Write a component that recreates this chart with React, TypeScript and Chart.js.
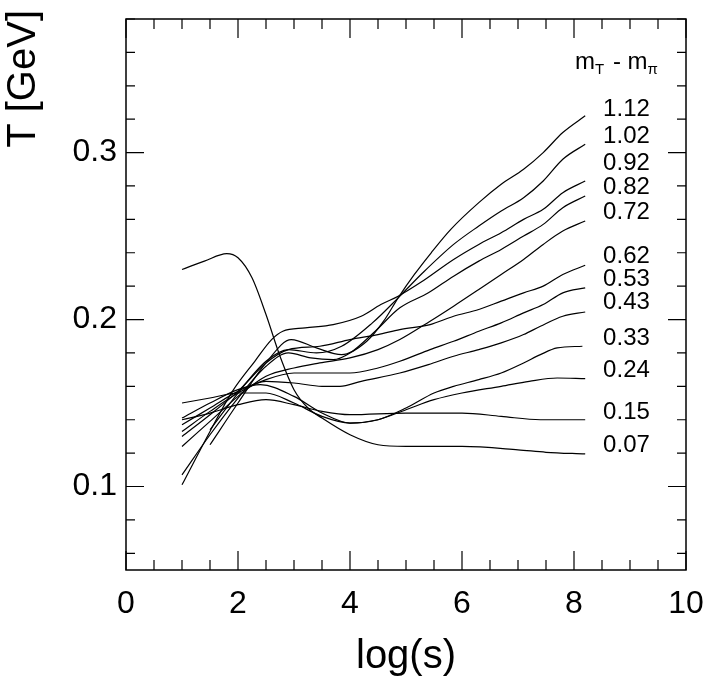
import { useEffect, useRef } from "react";
import { Chart, registerables } from "chart.js";

Chart.register(...registerables);

const FONT = "'Liberation Sans', Arial, Helvetica, sans-serif";

// m_T - m_pi bins (GeV), top to bottom at the right edge
const binLabels = ["1.12", "1.02", "0.92", "0.82", "0.72", "0.62", "0.53", "0.43", "0.33", "0.24", "0.15", "0.07"];
// T value where each bin label sits
const labelT = [0.326, 0.3096, 0.2936, 0.279, 0.264, 0.2376, 0.224, 0.21, 0.189, 0.1694, 0.1446, 0.1246];

// [log(s), T]
const c112 = [[1.5, 0.125], [2.0, 0.15], [2.5, 0.174], [2.95, 0.188], [3.4, 0.183], [3.85, 0.179], [4.3, 0.187], [4.6, 0.199], [4.86, 0.213], [5.15, 0.227], [5.45, 0.24], [5.8, 0.254], [6.3, 0.27], [6.7, 0.281], [7.1, 0.29], [7.45, 0.3], [7.8, 0.312], [8.2, 0.322]];
const c102 = [[1.5, 0.134], [2.0, 0.156], [2.5, 0.175], [2.9, 0.182], [3.4, 0.18], [3.85, 0.184], [4.4, 0.198], [4.86, 0.213], [5.3, 0.228], [5.85, 0.245], [6.3, 0.256], [6.7, 0.265], [7.1, 0.273], [7.45, 0.283], [7.8, 0.296], [8.2, 0.305]];
const c092 = [[1.0, 0.101], [1.5, 0.133], [1.9, 0.157], [2.3, 0.175], [2.6, 0.188], [2.8, 0.193], [3.2, 0.195], [3.7, 0.197], [4.2, 0.202], [4.55, 0.209], [4.86, 0.214], [5.25, 0.222], [5.85, 0.236], [6.3, 0.245], [6.7, 0.252], [7.1, 0.26], [7.45, 0.266], [7.8, 0.276], [8.2, 0.283]];
const c082 = [[1.0, 0.107], [1.5, 0.131], [2.0, 0.153], [2.5, 0.172], [2.9, 0.18], [3.3, 0.177], [3.7, 0.176], [4.0, 0.18], [4.45, 0.193], [4.89, 0.207], [5.4, 0.216], [5.85, 0.226], [6.3, 0.235], [6.7, 0.242], [7.1, 0.25], [7.45, 0.257], [7.8, 0.267], [8.2, 0.274]];
const c072 = [[1.0, 0.124], [1.5, 0.139], [2.0, 0.154], [2.5, 0.166], [3.0, 0.171], [3.46, 0.174], [4.0, 0.177], [4.5, 0.182], [4.89, 0.188], [5.43, 0.199], [5.85, 0.208], [6.3, 0.218], [6.7, 0.227], [7.1, 0.236], [7.45, 0.245], [7.8, 0.253], [8.2, 0.259]];
const c062 = [[1.0, 0.13], [1.5, 0.143], [2.0, 0.157], [2.5, 0.174], [2.9, 0.182], [3.46, 0.184], [4.0, 0.188], [4.5, 0.191], [4.89, 0.194], [5.43, 0.197], [5.85, 0.202], [6.3, 0.206], [6.7, 0.211], [7.1, 0.216], [7.45, 0.22], [7.8, 0.227], [8.2, 0.2325]];
const c053 = [[1.0, 0.133], [1.5, 0.145], [2.0, 0.156], [2.5, 0.164], [3.0, 0.168], [3.5, 0.168], [4.0, 0.168], [4.5, 0.171], [4.89, 0.175], [5.43, 0.182], [5.85, 0.187], [6.3, 0.193], [6.7, 0.198], [7.1, 0.204], [7.45, 0.209], [7.8, 0.216], [8.2, 0.219]];
const c043 = [[1.0, 0.137], [1.5, 0.147], [2.0, 0.157], [2.5, 0.163], [3.0, 0.162], [3.5, 0.16], [3.82, 0.16], [4.2, 0.163], [4.89, 0.168], [5.4, 0.173], [5.85, 0.178], [6.3, 0.182], [6.7, 0.186], [7.1, 0.191], [7.4, 0.196], [7.8, 0.202], [8.2, 0.2045]];
const c033 = [[1.0, 0.141], [1.5, 0.15], [2.0, 0.158], [2.4, 0.161], [3.0, 0.154], [3.5, 0.144], [4.0, 0.138], [4.5, 0.14], [5.0, 0.147], [5.5, 0.156], [5.85, 0.16], [6.3, 0.164], [6.7, 0.168], [7.1, 0.174], [7.4, 0.179], [7.7, 0.183], [8.15, 0.184]];
const c024 = [[1.0, 0.15], [1.5, 0.153], [2.0, 0.156], [2.5, 0.156], [3.0, 0.15], [3.5, 0.142], [4.0, 0.138], [4.5, 0.14], [5.0, 0.146], [5.5, 0.152], [6.0, 0.156], [6.7, 0.16], [7.2, 0.163], [7.7, 0.165], [8.2, 0.1646]];
const c015 = [[1.0, 0.14], [1.5, 0.144], [2.0, 0.149], [2.5, 0.152], [3.0, 0.149], [3.5, 0.145], [4.0, 0.143], [5.0, 0.144], [6.0, 0.144], [6.7, 0.142], [7.4, 0.14], [8.2, 0.14]];
const c007 = [[1.0, 0.23], [1.4, 0.235], [1.8, 0.2395], [2.0, 0.237], [2.25, 0.225], [2.5, 0.203], [2.75, 0.178], [3.0, 0.158], [3.25, 0.147], [3.5, 0.141], [4.0, 0.131], [4.5, 0.125], [5.0, 0.124], [6.0, 0.124], [7.0, 0.122], [7.5, 0.1205], [8.2, 0.1195]];

const curves = [c112, c102, c092, c082, c072, c062, c053, c043, c033, c024, c015, c007];

const xTickLabels = [0, 2, 4, 6, 8, 10];
const yTickLabels = [0.1, 0.2, 0.3];

const framePlugin = {
  id: "frame",
  afterDatasetsDraw(chart: any) {
    const { ctx, chartArea: a, scales } = chart;
    const x = scales.x;
    const y = scales.y;
    ctx.save();
    ctx.strokeStyle = "#000";
    ctx.lineWidth = 1.5;
    ctx.strokeRect(a.left, a.top, a.right - a.left, a.bottom - a.top);

    // inward ticks on all four sides
    ctx.lineWidth = 1.2;
    ctx.beginPath();
    for (let i = 0; i <= 20; i++) {
      const px = x.getPixelForValue(i * 0.5);
      const len = i % 4 === 0 ? 19 : 10;
      ctx.moveTo(px, a.bottom);
      ctx.lineTo(px, a.bottom - len);
      ctx.moveTo(px, a.top);
      ctx.lineTo(px, a.top + len);
    }
    for (let i = 3; i <= 19; i++) {
      const py = y.getPixelForValue(i * 0.02);
      const len = i % 5 === 0 ? 18 : 9;
      ctx.moveTo(a.left, py);
      ctx.lineTo(a.left + len, py);
      ctx.moveTo(a.right, py);
      ctx.lineTo(a.right - len, py);
    }
    ctx.stroke();

    // bin labels
    ctx.fillStyle = "#000";
    ctx.font = `24px ${FONT}`;
    ctx.textAlign = "left";
    ctx.textBaseline = "middle";
    const lx = x.getPixelForValue(8.52);
    binLabels.forEach((t, i) => ctx.fillText(t, lx, y.getPixelForValue(labelT[i])));

    // header m_T - m_pi
    ctx.textBaseline = "alphabetic";
    let hx = x.getPixelForValue(8.02);
    const hy = y.getPixelForValue(0.35);
    const big = `24px ${FONT}`;
    const small = `15px ${FONT}`;
    const parts: [string, string, number][] = [
      ["m", big, 0],
      ["T", small, 5],
      [" - m", big, 0],
      ["\u03c0", small, 5],
    ];
    parts.forEach(([s, f, dy]) => {
      ctx.font = f;
      ctx.fillText(s, hx, hy + dy);
      hx += ctx.measureText(s).width + (f === small ? 2 : 0);
    });

    // axis titles
    ctx.font = `40px ${FONT}`;
    ctx.textAlign = "center";
    ctx.fillText("log(s)", (a.left + a.right) / 2, 668);
    ctx.translate(35, a.top - 9);
    ctx.rotate(-Math.PI / 2);
    ctx.textAlign = "right";
    ctx.fillText("T [GeV]", 0, 0);
    ctx.restore();
  },
};

export default function App() {
  const canvasRef = useRef<HTMLCanvasElement>(null);
  const chartRef = useRef<Chart | null>(null);

  useEffect(() => {
    if (!canvasRef.current) return;
    if (chartRef.current) chartRef.current.destroy();

    chartRef.current = new Chart(canvasRef.current, {
      type: "scatter",
      data: {
        datasets: curves.map((pts, i) => ({
          label: binLabels[i],
          data: pts.map(([px, py]) => ({ x: px, y: py })),
          showLine: true,
          borderColor: "#000",
          borderWidth: 1.2,
          pointRadius: 0,
          cubicInterpolationMode: "monotone" as const,
          fill: false,
        })),
      },
      options: {
        animation: false,
        responsive: true,
        maintainAspectRatio: false,
        layout: { padding: { top: 19, right: 22, left: 0, bottom: 0 } },
        plugins: { legend: { display: false }, tooltip: { enabled: false } },
        scales: {
          x: {
            type: "linear",
            min: 0,
            max: 10,
            grid: { display: false, drawTicks: false },
            border: { display: false },
            afterFit: (s: any) => {
              s.height = 110;
              s.paddingLeft = 0;
              s.paddingRight = 0;
            },
            ticks: {
              stepSize: 2,
              autoSkip: false,
              maxRotation: 0,
              padding: 15,
              color: "#000",
              font: { family: FONT, size: 32 },
              callback: (v: any) => (xTickLabels.includes(Number(v)) ? String(v) : ""),
            },
          },
          y: {
            type: "linear",
            min: 0.05,
            max: 0.38,
            grid: { display: false, drawTicks: false },
            border: { display: false },
            afterFit: (s: any) => {
              s.width = 126;
              s.paddingTop = 0;
              s.paddingBottom = 0;
            },
            ticks: {
              stepSize: 0.05,
              autoSkip: false,
              padding: 9,
              color: "#000",
              font: { family: FONT, size: 32 },
              callback: (v: any) => {
                const n = Number(v);
                const hit = yTickLabels.find((t) => Math.abs(t - n) < 1e-6);
                return hit !== undefined ? hit.toFixed(1) : "";
              },
            },
          },
        },
      },
      plugins: [framePlugin],
    });

    return () => {
      if (chartRef.current) {
        chartRef.current.destroy();
        chartRef.current = null;
      }
    };
  }, []);

  return (
    <div style={{ position: "fixed", left: 0, top: 0, width: 708, height: 680, background: "#fff" }}>
      <canvas ref={canvasRef} />
    </div>
  );
}
